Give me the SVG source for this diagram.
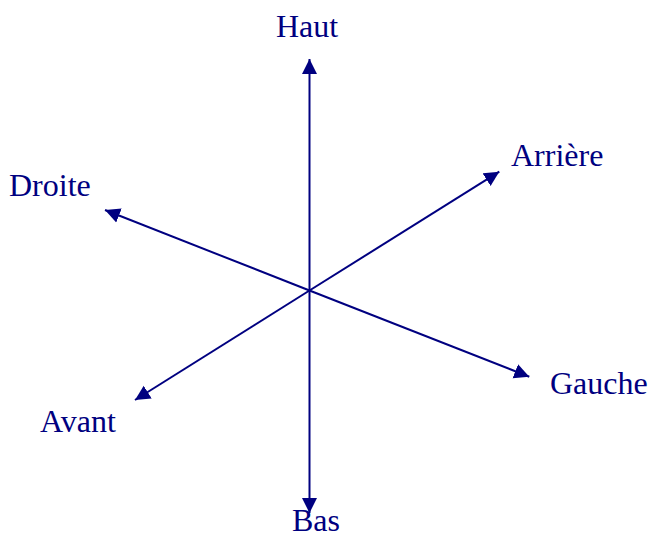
<svg xmlns="http://www.w3.org/2000/svg" width="649" height="539" viewBox="0 0 649 539">
<style>
.ax{stroke:#000080;stroke-width:2;fill:none;marker-end:url(#ah)}
.lb{font-family:"Liberation Serif","Times New Roman",serif;font-size:32px;fill:#000080}
</style>
<defs>
<marker id="ah" markerUnits="userSpaceOnUse" markerWidth="16" markerHeight="16" viewBox="0 0 16 16" refX="15" refY="8" orient="auto">
<path d="M0,0.5 L15,8 L0,15.5 z" fill="#000080"/>
</marker>
</defs>
<rect width="649" height="539" fill="#fff"/>
<g id="connectors">
<line class="ax" x1="309.5" y1="290.5" x2="309.5" y2="59"/>
<line class="ax" x1="309.5" y1="290.5" x2="309.5" y2="513"/>
<line class="ax" x1="309.5" y1="290.5" x2="499.3" y2="171.7"/>
<line class="ax" x1="309.5" y1="290.5" x2="135" y2="400"/>
<line class="ax" x1="309.5" y1="290.5" x2="105" y2="210"/>
<line class="ax" x1="309.5" y1="290.5" x2="529.3" y2="376.7"/>
</g>
<g id="haut"><text class="lb" x="276" y="37">Haut</text></g>
<g id="bas"><text class="lb" x="292" y="531">Bas</text></g>
<g id="arriere"><text class="lb" x="511" y="166">Arrière</text></g>
<g id="avant"><text class="lb" x="40" y="432">Avant</text></g>
<g id="droite"><text class="lb" x="9" y="196">Droite</text></g>
<g id="gauche"><text class="lb" x="550" y="394">Gauche</text></g>
</svg>
